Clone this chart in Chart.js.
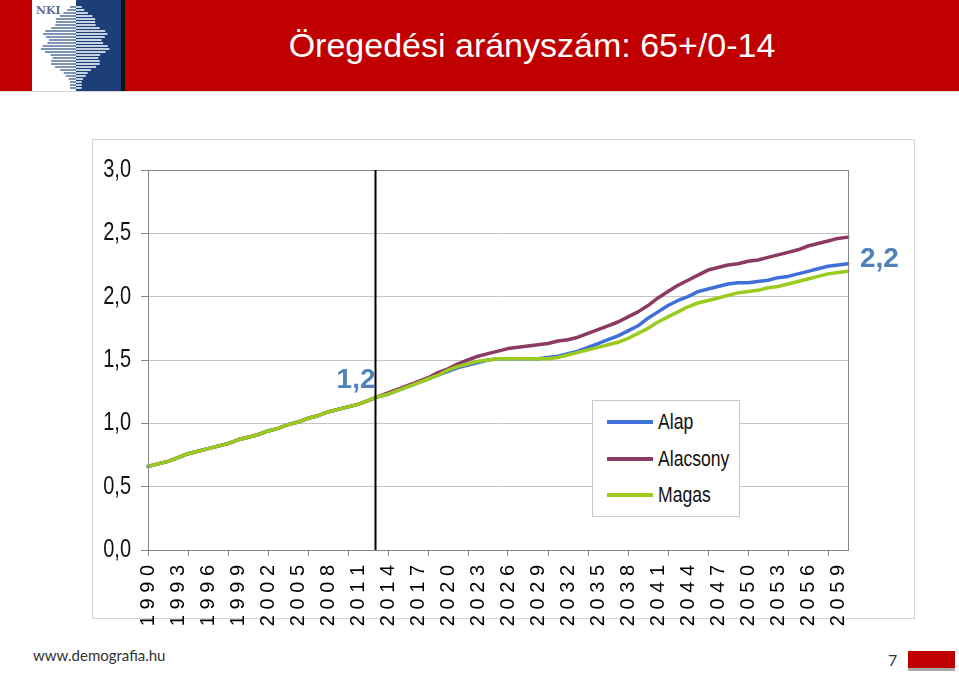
<!DOCTYPE html>
<html>
<head>
<meta charset="utf-8">
<script src="https://cdn.jsdelivr.net/npm/chart.js@4.4.1/dist/chart.umd.min.js"></script>
<style>
  body { margin: 0; width: 959px; height: 675px; background: #fff; position: relative; overflow: hidden; font-family: "Liberation Sans", Arial, sans-serif; }
  #header { position: absolute; left: 0; top: 0; width: 959px; height: 91px; background: #c00000; border-bottom: 1px solid #d8d8d8; }
  #logo { position: absolute; left: 32px; top: 0; width: 89px; height: 91px; }
  #logoBar { position: absolute; left: 121px; top: 0; width: 4px; height: 91px; background: #111; }
  #title { position: absolute; left: 125px; top: 26px; width: 814px; text-align: center; color: #fff; font-size: 34px; }
  #box { position: absolute; left: 92px; top: 139px; width: 821px; height: 478px; border: 1px solid #d4d4d4; }
  #chartWrap { position: absolute; left: 92px; top: 139px; }
  #legend { position: absolute; left: 592px; top: 400px; width: 146px; height: 115px; border: 1px solid #c8c8c8; background: #fff; }
  .item { position: absolute; left: 14px; height: 24px; font-size: 22px; color: #111; }
  .item span.l { position: absolute; left: 0; top: 11px; width: 46px; height: 4px; }
  .item span.t { position: absolute; left: 51px; top: 0; white-space: nowrap; transform: scaleX(0.8); transform-origin: left center; }
  #site { position: absolute; left: 33px; top: 646px; font-family: Lato, "Open Sans", sans-serif; font-size: 15px; color: #333; }
  #page { position: absolute; left: 888px; top: 650px; font-family: Lato, sans-serif; font-size: 16px; color: #333; }
  #redBox { position: absolute; left: 908px; top: 651px; width: 47px; height: 17px; background: #c00000; border-bottom: 3px solid #aaa; }
</style>
</head>
<body>
<div id="header">
  <canvas id="logo" width="89" height="91"></canvas>
  <div id="logoBar"></div>
  <div id="title">Öregedési arányszám: 65+/0-14</div>
</div>
<div id="box"></div>
<div id="chartWrap"><canvas id="chart" width="826" height="500"></canvas></div>
<div id="legend"></div>
<div id="site">www.demografia.hu</div>
<div id="page">7</div>
<div id="redBox"></div>

<script>
// years on the category axis
const years = [];
for (let y = 1990; y <= 2060; y++) years.push(y);

// common past values 1990-2012
const history = [0.66, 0.68, 0.70, 0.73, 0.76, 0.78, 0.80, 0.82, 0.84, 0.87, 0.89, 0.91,
  0.94, 0.96, 0.99, 1.01, 1.04, 1.06, 1.09, 1.11, 1.13, 1.15, 1.18];

// projections 2013-2060
const alapProj = [1.21, 1.23, 1.26, 1.29, 1.32, 1.35, 1.38, 1.41, 1.44, 1.46, 1.48, 1.50,
  1.51, 1.51, 1.51, 1.51, 1.51, 1.52, 1.53, 1.55, 1.57, 1.60, 1.63, 1.66, 1.69, 1.73,
  1.77, 1.83, 1.88, 1.93, 1.97, 2.00, 2.04, 2.06, 2.08, 2.10, 2.11, 2.11, 2.12, 2.13,
  2.15, 2.16, 2.18, 2.20, 2.22, 2.24, 2.25, 2.26];
const alacsonyProj = [1.21, 1.24, 1.27, 1.30, 1.33, 1.36, 1.40, 1.43, 1.47, 1.50, 1.53, 1.55,
  1.57, 1.59, 1.60, 1.61, 1.62, 1.63, 1.65, 1.66, 1.68, 1.71, 1.74, 1.77, 1.80, 1.84,
  1.88, 1.93, 1.99, 2.04, 2.09, 2.13, 2.17, 2.21, 2.23, 2.25, 2.26, 2.28, 2.29, 2.31,
  2.33, 2.35, 2.37, 2.40, 2.42, 2.44, 2.46, 2.47];
const magasProj = [1.21, 1.23, 1.26, 1.29, 1.32, 1.35, 1.38, 1.42, 1.45, 1.47, 1.49, 1.50,
  1.51, 1.51, 1.51, 1.51, 1.51, 1.51, 1.52, 1.54, 1.56, 1.58, 1.60, 1.62, 1.64, 1.67,
  1.71, 1.75, 1.80, 1.84, 1.88, 1.92, 1.95, 1.97, 1.99, 2.01, 2.03, 2.04, 2.05, 2.07,
  2.08, 2.10, 2.12, 2.14, 2.16, 2.18, 2.19, 2.20];

const seriesNames = ['Alap', 'Alacsony', 'Magas'];
const seriesColors = ['#3f6fd9', '#8c3a63', '#9bcb1f'];
const startLabel = '1,2';
const endLabel = '2,2';
const markerYear = 2012.7;

// logo decoration
(function () {
  const c = document.getElementById('logo').getContext('2d');
  c.fillStyle = '#fff'; c.fillRect(0, 0, 44, 91);
  c.fillStyle = '#1d3f78'; c.fillRect(44, 0, 45, 91);
  for (let r = 6; r < 90; r += 3) {
    const t = (r - 6) / 84;
    const w = 6 + 30 * Math.sin(Math.PI * Math.min(1, t * 1.15)) * (0.85 + 0.15 * Math.cos(r * 1.7));
    c.fillStyle = '#7d93b4'; c.fillRect(44 - w, r, w, 2);
    c.fillStyle = '#c5d2e4'; c.fillRect(44, r, w * 0.95, 2);
  }
  c.fillStyle = '#fff'; c.fillRect(2, 3, 26, 14);
  c.fillStyle = '#5a6f90'; c.font = 'bold 11px "DejaVu Serif", serif'; c.fillText('NKI', 4, 14);
})();

const fmt = v => v.toFixed(1).replace('.', ',');

// y labels in the reference are a narrow face: squeeze them around their right edge
const narrowY = {
  id: 'narrowY',
  afterLayout(chart) {
    const s = chart.scales.y;
    if (s._narrowed) return;
    s._narrowed = true;
    const orig = s.drawLabels;
    s.drawLabels = function (area) {
      const ctx = this.ctx;
      const x0 = this.right - this.options.grid.tickLength - this.options.ticks.padding;
      ctx.save();
      ctx.translate(x0, 0);
      ctx.scale(0.8, 1);
      ctx.translate(-x0, 0);
      orig.call(this, area);
      ctx.restore();
    };
  }
};

const frame = {
  id: 'frame',
  afterDatasetsDraw(chart) {
    const { ctx, chartArea: a, scales } = chart;
    ctx.save();
    ctx.strokeStyle = '#868686';
    ctx.lineWidth = 1;
    ctx.strokeRect(a.left + 0.5, a.top + 0.5, a.right - a.left, a.bottom - a.top);
    // marker line
    const mx = Math.round(scales.x.getPixelForValue(markerYear - years[0])) + 0.5;
    ctx.strokeStyle = '#000';
    ctx.lineWidth = 2;
    ctx.beginPath(); ctx.moveTo(mx, a.top); ctx.lineTo(mx, a.bottom); ctx.stroke();
    // value labels
    ctx.fillStyle = '#4f81bd';
    ctx.font = 'bold 28px "Liberation Sans", Arial, sans-serif';
    ctx.textAlign = 'right';
    ctx.textBaseline = 'alphabetic';
    ctx.fillText(startLabel, mx, scales.y.getPixelForValue(history[history.length - 1]) - 13);
    ctx.textAlign = 'left';
    ctx.fillText(endLabel, a.right + 12, scales.y.getPixelForValue(magasProj[magasProj.length - 1]) - 4);
    ctx.restore();
  }
};

const chart = new Chart(document.getElementById('chart').getContext('2d'), {
  type: 'line',
  data: {
    labels: years,
    datasets: [
      { label: seriesNames[0], data: history.concat(alapProj), borderColor: seriesColors[0], order: 2 },
      { label: seriesNames[1], data: history.concat(alacsonyProj), borderColor: seriesColors[1], order: 1 },
      { label: seriesNames[2], data: history.concat(magasProj), borderColor: seriesColors[2], order: 0 }
    ]
  },
  options: {
    responsive: false,
    animation: false,
    layout: { padding: { left: 0, top: 31, right: 70, bottom: 0 } },
    elements: {
      line: { borderWidth: 3.5, tension: 0, borderCapStyle: 'round', borderJoinStyle: 'round' },
      point: { radius: 0 }
    },
    plugins: { legend: { display: false }, tooltip: { enabled: false } },
    scales: {
      x: {
        type: 'category',
        offset: false,
        afterFit: s => { s.height = 89; },
        grid: {
          drawOnChartArea: false,
          tickLength: 6,
          color: ctx => (ctx.index % 4 === 0 ? '#868686' : 'rgba(0,0,0,0)')
        },
        border: { color: '#868686' },
        ticks: {
          autoSkip: false,
          minRotation: 90,
          maxRotation: 90,
          padding: 9,
          color: '#000',
          font: { family: '"Liberation Sans", Arial, sans-serif', size: 20 },
          callback: (v, i) => (i % 3 === 0 ? String(years[i]).split('').join(' ') : '')
        }
      },
      y: {
        min: 0,
        max: 3,
        afterFit: s => { s.width = 56; },
        grid: { color: '#c4c4c4', tickLength: 7, tickColor: '#868686' },
        border: { color: '#868686' },
        ticks: {
          stepSize: 0.5,
          padding: 10,
          color: '#111',
          font: { family: '"Liberation Sans", Arial, sans-serif', size: 25 },
          callback: v => fmt(v)
        }
      }
    }
  },
  plugins: [narrowY, frame]
});

// legend inside the plot, in dataset order
const legend = document.getElementById('legend');
chart.data.datasets.forEach((ds, i) => {
  const item = document.createElement('div');
  item.className = 'item';
  item.style.top = (8 + i * 36.5) + 'px';
  item.innerHTML = '<span class="l" style="background:' + ds.borderColor + '"></span><span class="t">' + ds.label + '</span>';
  legend.appendChild(item);
});
</script>
</body>
</html>
